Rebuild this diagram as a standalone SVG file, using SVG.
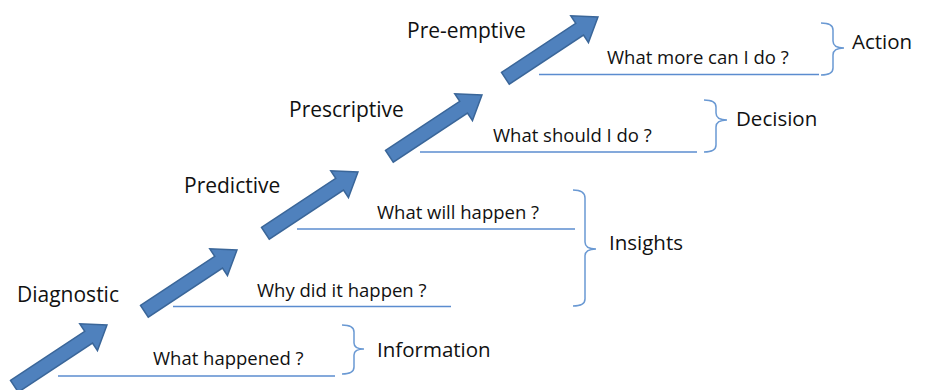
<svg xmlns="http://www.w3.org/2000/svg" width="929" height="390" viewBox="0 0 929 390">
<style>
.arrow{fill:#4F81BD;stroke:#3A6699;stroke-width:1.5;stroke-linejoin:miter}
.line{stroke:#5B8CCF;stroke-width:1.5;fill:none}
.brace{stroke:#6A99D3;stroke-width:1.5;fill:none}
.stage{font-family:"Open Sans","Liberation Sans",sans-serif;font-size:21px;fill:#111}
.q{font-family:"Open Sans","Liberation Sans",sans-serif;font-size:18.5px;fill:#111}
.cat{font-family:"Open Sans","Liberation Sans",sans-serif;font-size:20.5px;fill:#111}
</style>
<defs>
<path id="blk" d="M0,-7 L89,-7 L89,-16 L111,0 L89,16 L89,7 L0,7 Z"/>
</defs>
<rect width="929" height="390" fill="#fff"/>
<g id="connectors">
<line class="line" x1="58" y1="376" x2="335" y2="376"/>
<line class="line" x1="173" y1="306.5" x2="451" y2="306.5"/>
<line class="line" x1="297" y1="229" x2="575" y2="229"/>
<line class="line" x1="420" y1="152" x2="697" y2="152"/>
<line class="line" x1="539" y1="74.5" x2="819" y2="74.5"/>
</g>
<g id="diagnostic">
<use href="#blk" class="arrow" transform="translate(14.4,386.3) rotate(-33.5)"/>
<text class="stage" x="17" y="302">Diagnostic</text>
<text class="q" x="153" y="365">What happened ?</text>
</g>
<g id="predictive">
<use href="#blk" class="arrow" transform="translate(144.4,311.3) rotate(-33.5)"/>
<text class="stage" x="184" y="193">Predictive</text>
<text class="q" x="257" y="297">Why did it happen ?</text>
</g>
<g id="prescriptive">
<use href="#blk" class="arrow" transform="translate(265.4,233.3) rotate(-33.5)"/>
<text class="stage" x="289" y="117">Prescriptive</text>
<text class="q" x="377" y="219">What will happen ?</text>
</g>
<g id="pre-emptive">
<use href="#blk" class="arrow" transform="translate(389.4,156.3) rotate(-33.5)"/>
<text class="stage" x="407" y="38">Pre-emptive</text>
<text class="q" x="493" y="142">What should I do ?</text>
</g>
<g id="top-arrow">
<use href="#blk" class="arrow" transform="translate(505.4,78.3) rotate(-33.5)"/>
<text class="q" x="607" y="64">What more can I do ?</text>
</g>
<g id="information">
<path class="brace" d="M342,325 Q354,325 354,332 L354,343 Q354,349 364,349 Q354,349 354,355 L354,367 Q354,374 342,374"/>
<text class="cat" x="377" y="357">Information</text>
</g>
<g id="insights">
<path class="brace" d="M573,190 Q585,190 585,198 L585,242 Q585,249 596,249 Q585,249 585,256 L585,299 Q585,306 573,306"/>
<text class="cat" x="609" y="250">Insights</text>
</g>
<g id="decision">
<path class="brace" d="M704,100 Q716,100 716,107 L716,113 Q716,120 727,120 Q716,120 716,127 L716,145 Q716,152 704,152"/>
<text class="cat" x="736" y="126">Decision</text>
</g>
<g id="action">
<path class="brace" d="M821,23 Q833,23 833,30 L833,41 Q833,48 844,48 Q833,48 833,55 L833,68 Q833,75 821,75"/>
<text class="cat" x="852" y="49">Action</text>
</g>
</svg>
